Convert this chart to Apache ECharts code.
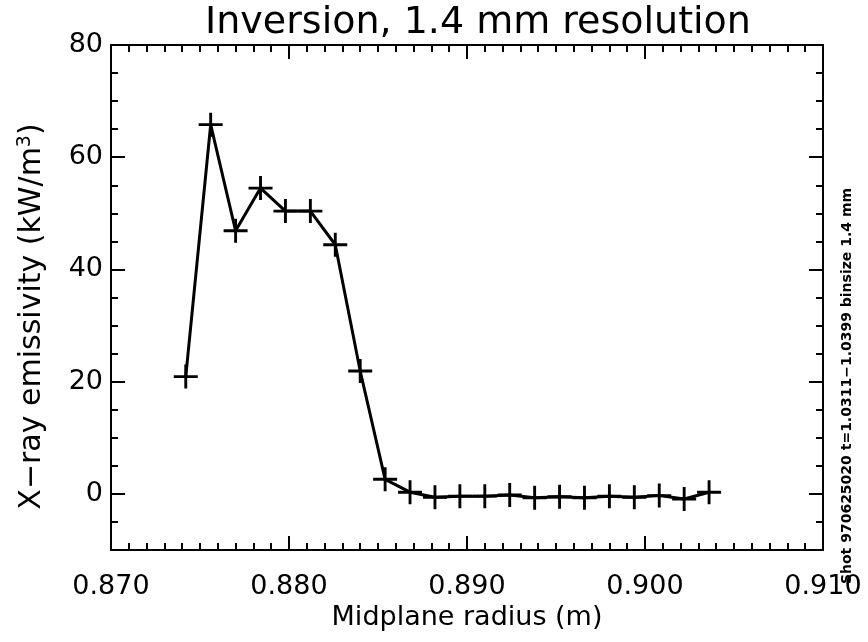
<!DOCTYPE html>
<html>
<head>
<meta charset="utf-8">
<script src="https://cdn.jsdelivr.net/npm/echarts@6/dist/echarts.min.js"></script>
<style>html,body{margin:0;padding:0;background:#fff}#c{width:868px;height:642px}</style>
</head>
<body>
<div id="c"></div>
<script>
const radius = [0.8742, 0.8756, 0.8770, 0.8784, 0.8798, 0.8812, 0.8826, 0.8840, 0.8854, 0.8868, 0.8882,
                0.8896, 0.8910, 0.8924, 0.8938, 0.8952, 0.8966, 0.8980, 0.8994, 0.9008, 0.9022, 0.9036];
const emissivity = [20.9, 65.8, 46.9, 54.5, 50.4, 50.4, 44.4, 21.9, 2.6, 0.3, -0.6,
                    -0.4, -0.4, -0.2, -0.7, -0.5, -0.7, -0.4, -0.6, -0.3, -0.9, 0.3];
const yMajorTicks = [0, 20, 40, 60, 80];
const titleText = 'Inversion, 1.4 mm resolution';
const xName = 'Midplane radius (m)';
const sideNote = 'Shot 970625020 t=1.0311\u22121.0399 binsize 1.4 mm';

const FONT = 'DejaVu Sans';
const chart = echarts.init(document.getElementById('c'), null, {renderer: 'canvas'});
const plus = 'path://M-1,-0.12 L1,-0.12 L1,0.12 L-1,0.12 Z M-0.12,-1 L0.12,-1 L0.12,1 L-0.12,1 Z';
const lineS = {color: '#000', width: 2};

function xAx(pos, labels) {
  return {
    type: 'value', position: pos, min: 0.870, max: 0.910, interval: 0.010,
    axisLine: {show: true, onZero: false, lineStyle: lineS},
    axisTick: {show: true, inside: true, length: 14, lineStyle: lineS},
    minorTick: {show: true, splitNumber: 10, length: 7, lineStyle: lineS},
    splitLine: {show: false}, minorSplitLine: {show: false},
    axisLabel: {show: labels, color: '#000', fontFamily: FONT, fontSize: 27, margin: 23,
      formatter: v => v.toFixed(3)},
    name: labels ? xName : '', nameLocation: 'middle', nameGap: 52,
    nameTextStyle: {color: '#000', fontFamily: FONT, fontSize: 27}
  };
}
function yMajor(pos, labels) {
  return {
    type: 'value', position: pos, min: -10, max: 80,
    axisLine: {show: true, onZero: false, lineStyle: lineS},
    axisTick: {show: true, inside: true, length: 14, lineStyle: lineS, customValues: yMajorTicks},
    splitLine: {show: false},
    axisLabel: {show: labels, color: '#000', fontFamily: FONT, fontSize: 27, margin: 8,
      customValues: yMajorTicks},
    name: labels ? 'X\u2212ray emissivity (kW/m{sup|3})' : '',
    nameLocation: 'middle', nameGap: 62, nameRotate: 90,
    nameTextStyle: {color: '#000', fontFamily: FONT, fontSize: 30, padding: [0, 38, 0, 0],
      rich: {sup: {fontFamily: FONT, fontSize: 19, verticalAlign: 'top', padding: [0, 0, 14, 0], color: '#000'}}}
  };
}
function yMinor(pos) {
  return {
    type: 'value', position: pos, min: -10, max: 80, interval: 5,
    axisLine: {show: false},
    axisTick: {show: true, inside: true, length: 7, lineStyle: lineS},
    splitLine: {show: false},
    axisLabel: {show: false}
  };
}

chart.setOption({
  animation: false,
  backgroundColor: '#fff',
  grid: {left: 111, right: 45, top: 45, bottom: 92, containLabel: false},
  xAxis: [xAx('bottom', true), xAx('top', false)],
  yAxis: [yMajor('left', true), yMinor('left'), yMajor('right', false), yMinor('right')],
  graphic: [
    {type: 'text', x: 478, y: 4,
     style: {text: titleText, fill: '#000', fontFamily: FONT, fontSize: 38, textAlign: 'center', textVerticalAlign: 'top'}},
    {type: 'text', x: 847, y: 386, rotation: Math.PI / 2,
     style: {text: sideNote, fill: '#000', fontFamily: FONT, fontSize: 14, fontWeight: 'bold', textAlign: 'center', textVerticalAlign: 'middle'}}
  ],
  series: [{
    type: 'line', xAxisIndex: 0, yAxisIndex: 0,
    data: radius.map((r, i) => [r, emissivity[i]]),
    symbol: plus, symbolSize: 24,
    itemStyle: {color: '#000'},
    lineStyle: {color: '#000', width: 3},
    clip: false
  }]
});
</script>
</body>
</html>
